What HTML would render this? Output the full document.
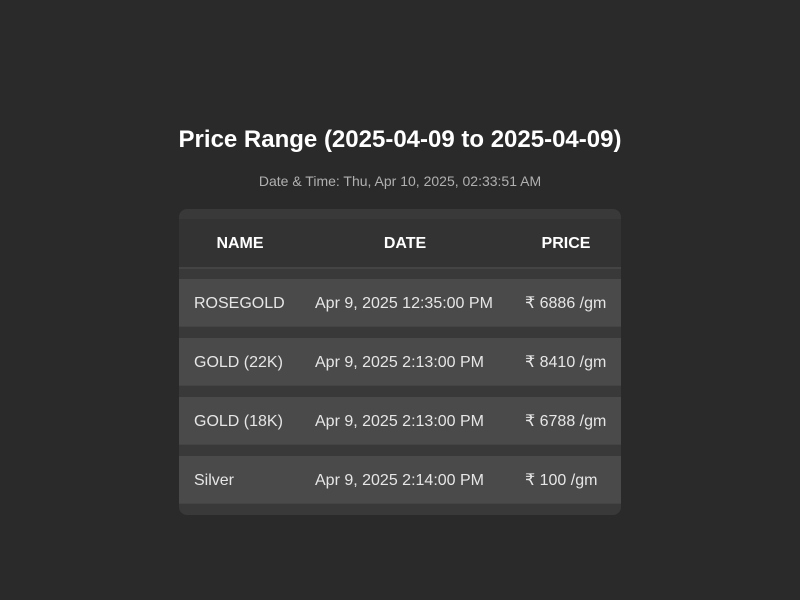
<!DOCTYPE html>
<html><head><meta charset="utf-8"><style>
body{margin:0;width:800px;height:600px;background:#2a2a2a;font-family:"Liberation Sans",sans-serif;position:relative;overflow:hidden}
.title{position:absolute;left:0;width:800px;top:125px;text-align:center;color:#fff;font-weight:bold;font-size:24px;line-height:30px}
.sub{position:absolute;left:0;width:800px;top:173px;text-align:center;color:#b0b0b0;font-size:14px;line-height:16px}
.box{position:absolute;left:179px;top:209px;width:442px;height:306px;background:#393939;border-radius:8px}
.hdr{position:absolute;left:0;top:10px;width:442px;height:48px;background:#333;border-bottom:2px solid #444}
.row{position:absolute;left:0;width:442px;height:47px;background:#4a4a4a;border-bottom:1px solid #444}
.c{position:absolute;top:1px;line-height:48px;font-size:16px;color:#e6e6e6;white-space:nowrap}
.h{font-weight:bold;color:#fff;text-align:center}
</style></head><body>
<div class="title">Price Range (2025-04-09 to 2025-04-09)</div>
<div class="sub">Date &amp; Time: Thu, Apr 10, 2025, 02:33:51 AM</div>
<div class="box">
<div class="hdr">
<div class="c h" style="left:0;width:122px">NAME</div>
<div class="c h" style="left:122px;width:208px">DATE</div>
<div class="c h" style="left:332px;width:110px">PRICE</div>
</div>
<div class="row" style="top:70px">
<div class="c" style="left:15px">ROSEGOLD</div><div class="c" style="left:136px">Apr 9, 2025 12:35:00 PM</div><div class="c" style="left:346px">₹ 6886 /gm</div></div>
<div class="row" style="top:129px">
<div class="c" style="left:15px">GOLD (22K)</div><div class="c" style="left:136px">Apr 9, 2025 2:13:00 PM</div><div class="c" style="left:346px">₹ 8410 /gm</div></div>
<div class="row" style="top:188px">
<div class="c" style="left:15px">GOLD (18K)</div><div class="c" style="left:136px">Apr 9, 2025 2:13:00 PM</div><div class="c" style="left:346px">₹ 6788 /gm</div></div>
<div class="row" style="top:247px">
<div class="c" style="left:15px">Silver</div><div class="c" style="left:136px">Apr 9, 2025 2:14:00 PM</div><div class="c" style="left:346px">₹ 100 /gm</div></div>
</div>
</body></html>
